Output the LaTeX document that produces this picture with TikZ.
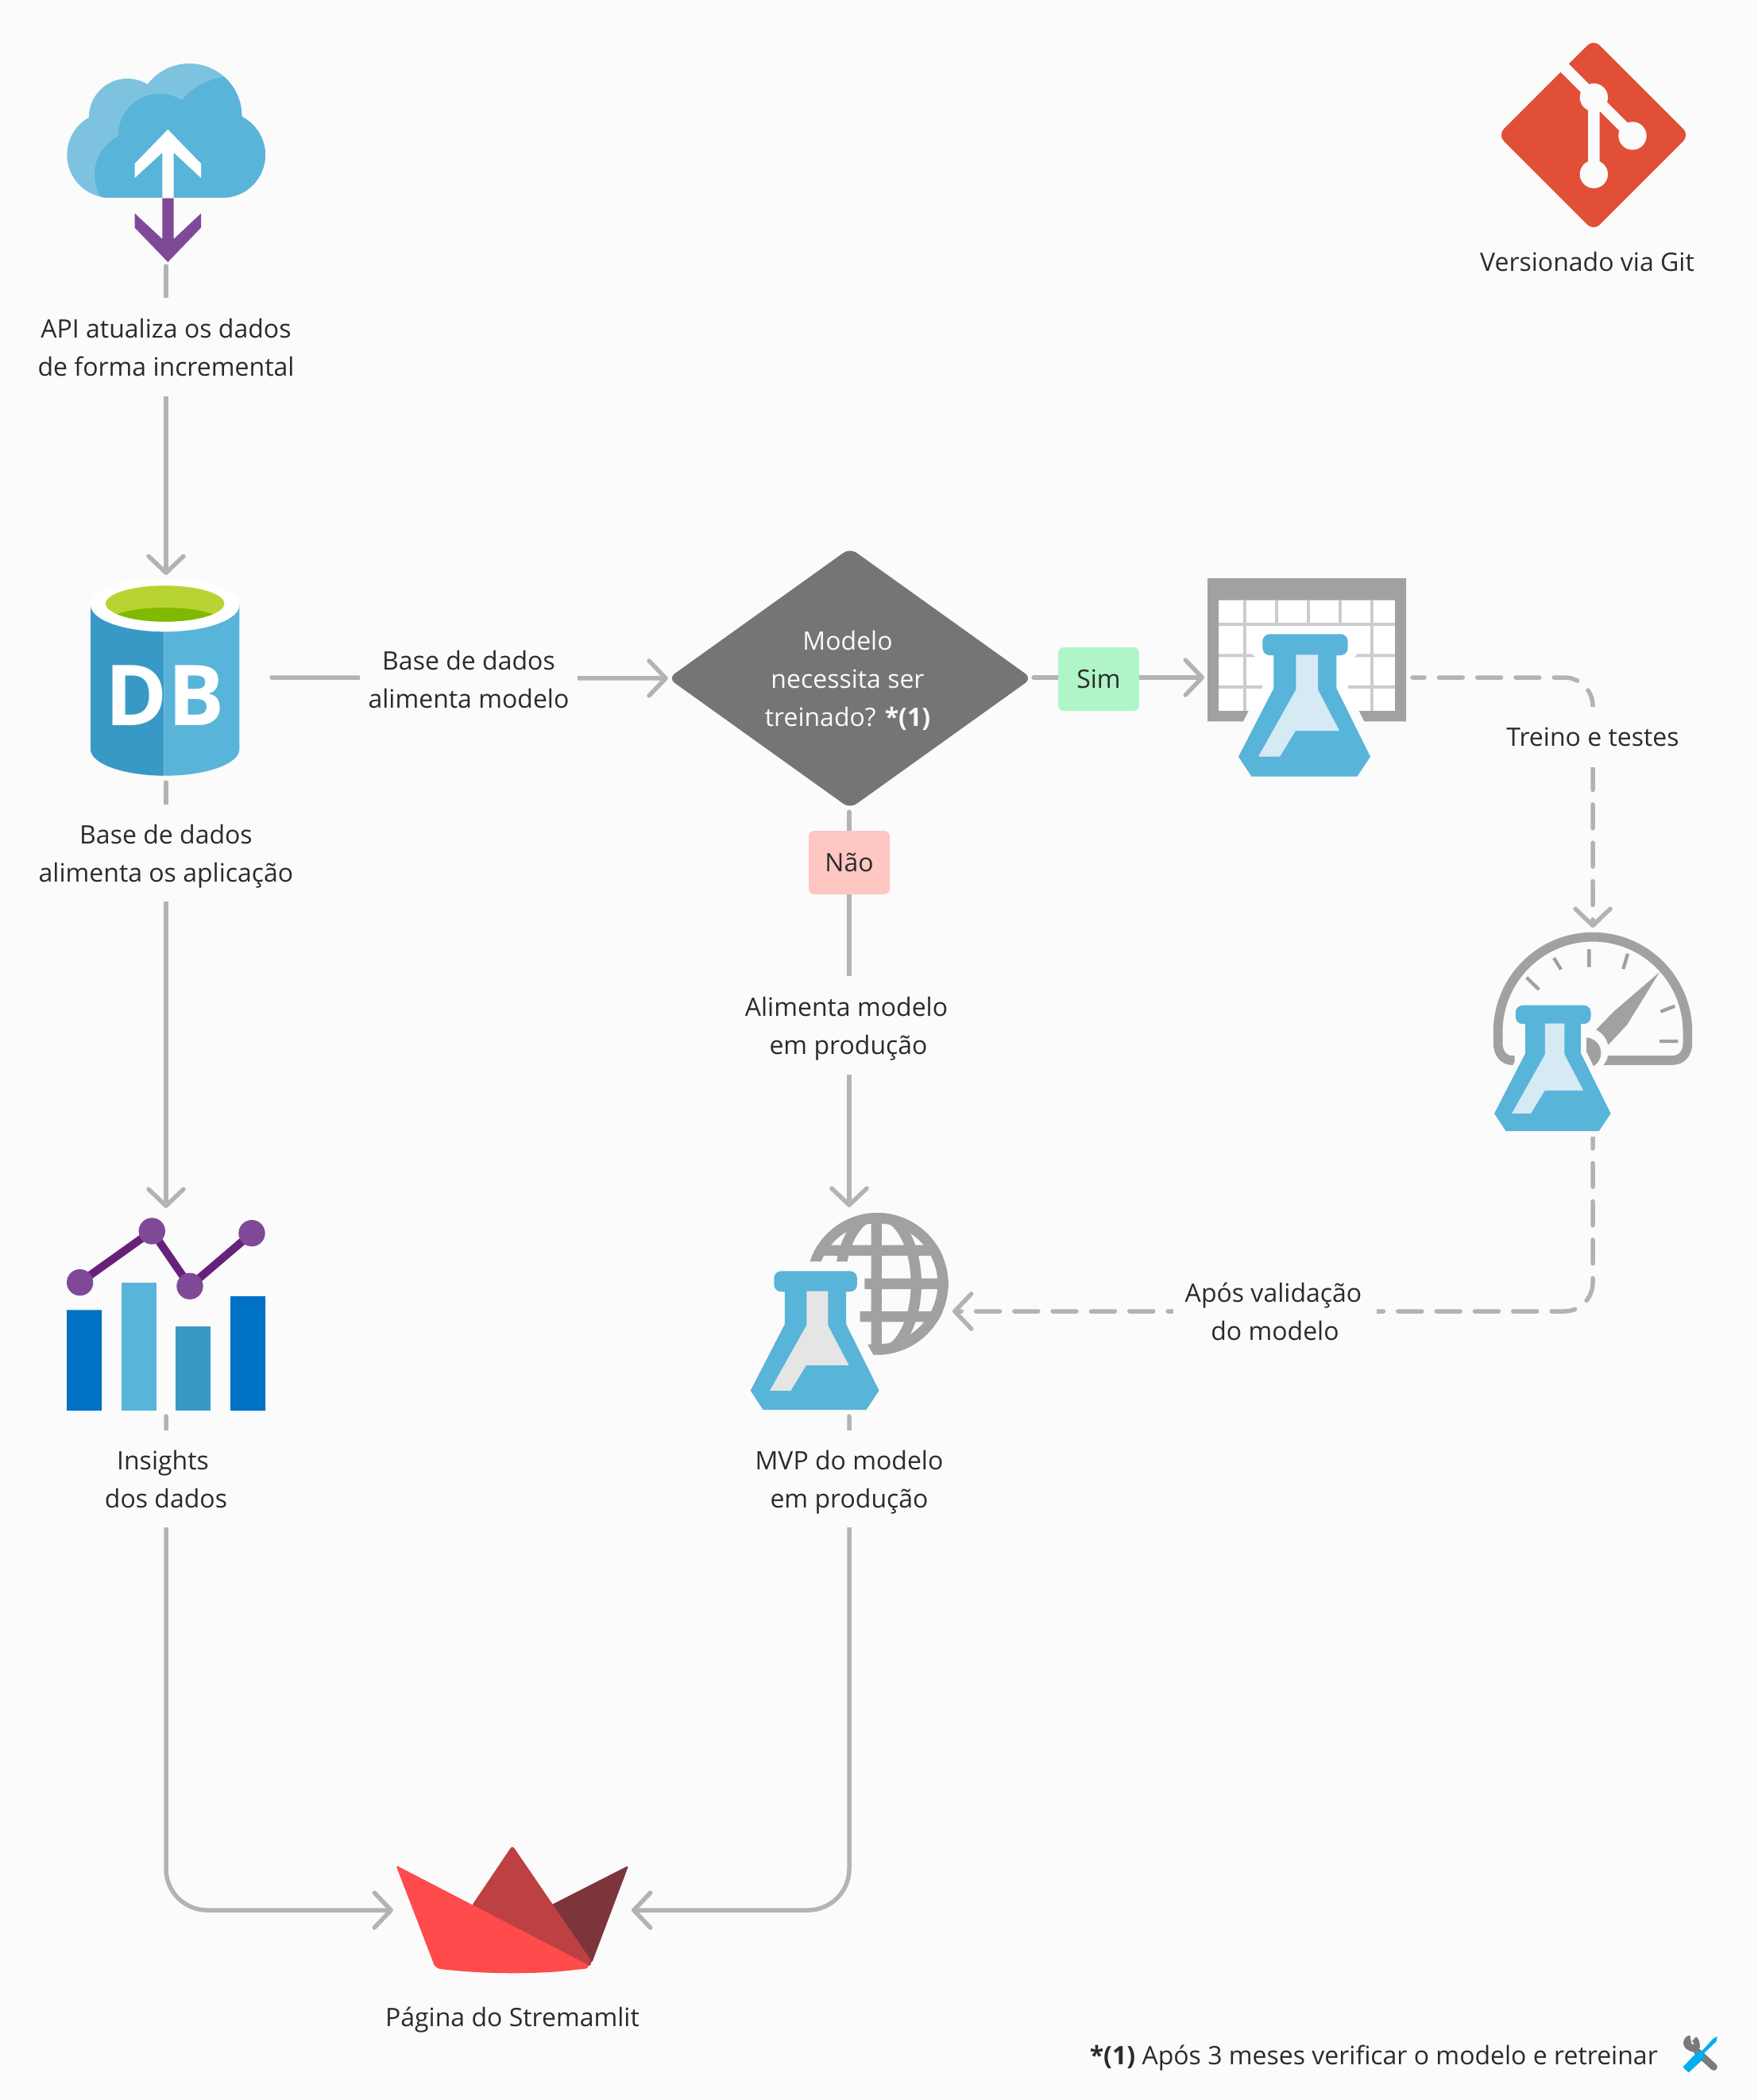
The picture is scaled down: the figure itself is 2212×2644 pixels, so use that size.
\documentclass[tikz,border=0pt]{standalone}
\usepackage{fontspec}
\setmainfont{Open Sans}
\usetikzlibrary{arrows.meta,shapes.geometric}
\definecolor{bgc}{HTML}{FBFBFB}
\definecolor{linec}{HTML}{B3B3B3}
\definecolor{txtc}{HTML}{2B2B2B}
\definecolor{azlight}{HTML}{7DC3E0}
\definecolor{az}{HTML}{59B4D9}
\definecolor{azdark}{HTML}{3999C6}
\definecolor{azblue}{HTML}{0072C6}
\definecolor{grayic}{HTML}{A0A1A2}
\definecolor{gridc}{HTML}{CCCCCC}
\definecolor{purp}{HTML}{804998}
\definecolor{purpd}{HTML}{68217A}
\definecolor{gitc}{HTML}{E14F37}
\definecolor{dia}{HTML}{757575}
\definecolor{simc}{HTML}{AFF5C8}
\definecolor{naoc}{HTML}{FFC7C2}
\definecolor{liqa}{HTML}{D5EAF5}
\definecolor{liqb}{HTML}{E5E5E5}
\definecolor{dbgreen}{HTML}{B8D432}
\definecolor{dbgreend}{HTML}{7FBA00}
\definecolor{boata}{HTML}{7D353B}
\definecolor{boatb}{HTML}{BD4043}
\definecolor{boatc}{HTML}{FF4B4B}
\definecolor{wrenchc}{HTML}{7A7A7A}
\definecolor{drvc}{HTML}{00ADEF}
\tikzset{
 conn/.style={draw=linec,line width=5.5pt,line cap=round,rounded corners=52pt,
   -{Straight Barb[length=21pt,width=44pt,line width=5.5pt,round]}},
 dashconn/.style={conn,rounded corners=36pt,dash pattern=on 30pt off 18.3pt,dash phase=15pt},
 lab/.style={fill=bgc,text=txtc,align=center,font=\fontsize{32}{48}\selectfont,inner sep=0pt,text depth=0pt},
 badge/.style={lab,rounded corners=7pt,minimum height=80pt,minimum width=102pt},
 zoomed/.style={x=.33333pt,y=-.33333pt},
}
\newcommand\flaskicon[5]{%
 \begin{scope}[shift={(#1,#2)},scale=#3]
  \ifdim #5pt>0pt
   \fill[bgc,draw=bgc,line width=#5pt,line join=round] (-116,80)--(-116,205)--(-249,463)--(-200,538)--(199,538)--(249,463)--(121,205)--(121,80)--cycle;
  \fi
  \fill[az] (-116,60)--(-116,205)--(-249,463)--(-200,538)--(199,538)--(249,463)--(121,205)--(121,60)--cycle;
  \fill[az,rounded corners=9pt] (-158,0) rectangle (164,80);
  \fill[#4] (-32,78)--(51,78)--(51,210)--(132,365)--(-33,365)--(-93,463)--(-174,463)--(-32,210)--cycle;
 \end{scope}}
\begin{document}
\begin{tikzpicture}[x=1pt,y=-1pt]
\useasboundingbox (0,0) rectangle (2212,2644);
\fill[bgc] (0,0) rectangle (2212,2644);

% anchors of the icons
\coordinate (cloud) at (209,335);
\coordinate (dbtop) at (209,724);
\coordinate (dbbot) at (209,985);
\coordinate (dbright) at (342,853);
\coordinate (chartin) at (209,1521);
\coordinate (chartbot) at (209,1783);
\coordinate (tablein) at (1516,853);
\coordinate (tableout) at (1778,853);
\coordinate (gaugein) at (2005,1168);
\coordinate (gaugeout) at (2005,1431);
\coordinate (globein) at (1069,1520);
\coordinate (globeright) at (1199,1651);
\coordinate (mvpbot) at (1069,1783);
\coordinate (boatl) at (495,2405);
\coordinate (boatr) at (795,2405);

% decision
\node[shape=diamond,fill=dia,aspect=1.4,inner sep=0pt,minimum width=458pt,minimum height=328pt,rounded corners=10pt] (decision) at (1070,854) {};

% connectors
\draw[conn] (cloud) -- (dbtop);
\draw[conn] (dbright) -- (decision.west);
\draw[conn] (dbbot) -- (chartin);
\draw[conn] (decision.east) ++(2,-1) -- (tablein);
\draw[conn] (decision.south) ++(-1,4) -- (globein);
\draw[dashconn] (tableout) -| (gaugein);
\draw[dashconn] (gaugeout) |- (globeright);
\draw[conn] (chartbot) |- (boatl);
\draw[conn] (mvpbot) |- (boatr);

% decision text
\node[align=center,text=white!98!black,font=\fontsize{32}{48}\selectfont] (decisiontext) at (1067,857) {Modelo\\necessita ser\\treinado? \textbf{*(1)}};

% labels
\node[lab,minimum width=340pt,minimum height=124pt] (l1) at (209,437) {API atualiza os dados\\de forma incremental};
\node[lab,minimum width=274pt,minimum height=110pt] (l2) at (590,855) {Base de dados\\alimenta modelo};
\node[lab,minimum width=340pt,minimum height=122pt] (l3) at (209,1074) {Base de dados\\alimenta os aplicação};
\node[lab,minimum width=260pt,minimum height=76pt] (l4) at (2005,928) {Treino e testes};
\node[lab,minimum width=256pt,minimum height=110pt] (l5) at (1605,1651) {Após validação\hspace*{4pt}\\do modelo};
\node[lab,minimum width=280pt,minimum height=124pt] (l6) at (1068,1291) {Alimenta modelo\hspace*{5pt}\\em produção};
\node[lab,minimum width=250pt,minimum height=122pt] (l7) at (209,1862) {Insights\hspace*{8pt}\\dos dados};
\node[lab,minimum width=280pt,minimum height=122pt] (l8) at (1069,1862) {MVP do modelo\\em produção};
\node[badge,fill=simc] (sim) at (1383,855) {Sim};
\node[badge,fill=naoc] (nao) at (1069,1086) {Não};
\node[lab] (l9) at (1998,329) {Versionado via Git};
\node[lab] (l10) at (645,2539) {Página do Stremamlit};
\node[lab,anchor=east] (foot) at (2087,2587) {\textbf{*(1)} Após 3 meses verificar o modelo e retreinar};

% cloud
\begin{scope}[shift={(40,40)},zoomed]
 \begin{scope}
  \clip (132,0) rectangle (882,627);
  \fill[azlight] (295,465) circle[radius=162] (720,465) circle[radius=162]
    (361,322) circle[radius=145] (595,318) circle[radius=198]
    (720,400) rectangle (295,627);
  \begin{scope}
   \clip (295,465) circle[radius=162] (720,465) circle[radius=162]
    (361,322) circle[radius=145] (595,318) circle[radius=198]
    (720,400) rectangle (295,627);
   \fill[az] (482,389) circle[radius=155] (400,540) circle[radius=163]
     (760,420) circle[radius=252] (900,400) rectangle (400,640);
  \end{scope}
 \end{scope}
 \fill[purp] (493,628)--(536,628)--(536,783)--(639,686)--(639,740)--(514,870)--(389,740)--(389,686)--(493,783)--cycle;
 \fill[white] (493,628)--(536,628)--(536,456)--(639,552)--(639,498)--(514,369)--(389,498)--(389,552)--(493,456)--cycle;
\end{scope}

% git
\begin{scope}[shift={(1840,30)},zoomed]
 \fill[gitc,rounded corners=11pt] (498,58)--(860,420)--(498,782)--(136,420)--cycle;
 \draw[bgc,line width=14.5pt] (372,150)--(645,423) (499,278)--(499,568);
 \fill[bgc] (499,278) circle[radius=53] (645,423) circle[radius=53] (499,568) circle[radius=53];
\end{scope}

% database
\begin{scope}[shift={(90,700)},zoomed]
 \fill[azdark] (72,185) -- (72,730) arc[start angle=180,end angle=90,x radius=281,y radius=100]  -- (349,830) -- (349,185) -- cycle;
 \fill[az] (349,185) -- (349,830) -- (353,830) arc[start angle=90,end angle=0,x radius=281,y radius=100] -- (634,185) -- cycle;
 \fill[white] (353,185) ellipse[x radius=281,y radius=101];
 \begin{scope}
  \clip (353,180) ellipse[x radius=224,y radius=68];
  \fill[dbgreen] (120,100) rectangle (590,260);
  \fill[dbgreend] (353,260) ellipse[x radius=230,y radius=65];
 \end{scope}
 \node[text=white,font=\fontsize{106}{106}\bfseries\selectfont,inner sep=0pt] (dbtext) at (353,528) {DB};
\end{scope}

% table + flask
\begin{scope}[shift={(1500,700)},zoomed]
 \fill[white] (102,167) rectangle (768,585);
 \draw[gridc,line width=4pt] (201,167)--(201,585) (681,167)--(681,585)
   (321,167)--(321,257) (441,167)--(441,257) (561,167)--(561,257)
   (102,257)--(768,257) (102,494)--(268,494) (590,494)--(768,494);
 \fill[gridc] (102,370)--(228,370)--(240,382)--(102,382)--cycle (768,370)--(627,370)--(615,382)--(768,382)--cycle;
 \fill[grayic] (60,84)--(810,84)--(810,625)--(652,625)--(632,585)--(768,585)--(768,167)--(102,167)--(102,585)--(215,585)--(195,625)--(60,625)--cycle;
 \flaskicon{426}{295}{1}{liqa}{0}
\end{scope}

% gauge + flask
\begin{scope}[shift={(1860,1160)},zoomed]
 \draw[grayic,line width=11.7pt] (140,525)--(130,525) .. controls (100,525) and (77,500) .. (77,460) -- (77,417)
   arc[start angle=180,end angle=360,radius=358] -- (793,460) .. controls (793,500) and (770,525) .. (735,525) -- (470,525);
 \draw[grayic,line width=4.3pt] (421,105)--(421,173) (288,138)--(315,182) (185,212)--(232,258)
   (567,122)--(550,180) (745,320)--(691,341) (757,453)--(687,453);
 \fill[grayic] (442,415)--(515,340)--(687,192)--(565,390)--(495,465)--(440,480)--cycle;
 \fill[bgc] (408,487) circle[radius=87];
 \begin{scope}
  \clip (408,400) rectangle (500,560);
  \fill[grayic] (408,497) circle[radius=58];
 \end{scope}
 \flaskicon{283}{317}{.883}{liqa}{14}
\end{scope}

% globe + flask
\begin{scope}[shift={(920,1510)},zoomed]
 \begin{scope}
  \clip (250,0)--(850,0)--(850,620)--(540,620)--(540,590)--(517,548)--(530,548)--(530,463)--(488,463)--(488,423)--(530,423)--(530,340)--(505,340)--(505,298)--(530,298)--(530,235)--(250,235)--cycle;
  \draw[grayic,line width=13.3pt] (553,319) circle[radius=248];
  \begin{scope}
   \clip (553,319) circle[radius=268];
   \draw[grayic,line width=13.3pt] (556,319) ellipse[x radius=144,y radius=262]
     (250,193)--(850,193) (250,319)--(850,319) (250,443)--(850,443) (550,40)--(550,550);
  \end{scope}
 \end{scope}
 \flaskicon{317}{271}{.975}{liqb}{0}
\end{scope}

% chart
\begin{scope}[shift={(60,1510)},zoomed]
 \fill[azblue] (72,418) rectangle (204,798) (690,366) rectangle (822,798);
 \fill[az] (278,315) rectangle (410,798);
 \fill[azdark] (484,480) rectangle (616,798);
 \draw[purpd,line width=10pt] (122,314)--(394,120)--(537,328)--(771,128);
 \fill[purp] (122,314) circle[radius=50] (394,120) circle[radius=50] (537,328) circle[radius=50] (771,128) circle[radius=50];
\end{scope}

% streamlit boat
\begin{scope}[shift={(480,2300)},zoomed]
 \fill[boata,rounded corners=3pt] (640,296)--(934,146)--(795,515)--(700,400)--cycle;
 \fill[boatb,rounded corners=4pt] (340,300)--(495,70)--(797,512)--(785,530)--cycle;
 \fill[boatc,rounded corners=3pt] (55,145)--(786,524)
   .. controls (775,537) and (765,537) .. (740,539)
   .. controls (600,557) and (400,557) .. (240,539)
   .. controls (210,537) and (200,525) .. (195,510) -- cycle;
\end{scope}

% tools
\begin{scope}[shift={(2080,2530)},zoomed]
 \draw[wrenchc,line width=9pt,line cap=round] (170,160)--(232,217);
 \fill[wrenchc] (142,97) .. controls (122,100) and (114,120) .. (118,135) .. controls (125,155) and (150,160) .. (172,165)--(180,140) .. controls (178,122) and (176,110) .. (165,103) -- (150,120) -- (160,132) -- (148,130) --cycle;
 \fill[drvc] (245,102)--(242,120)--(190,170)--(200,180)--(137,238)--(115,218)--(172,158)--(182,162)--(230,110)--cycle;
\end{scope}
\end{tikzpicture}
\end{document}
